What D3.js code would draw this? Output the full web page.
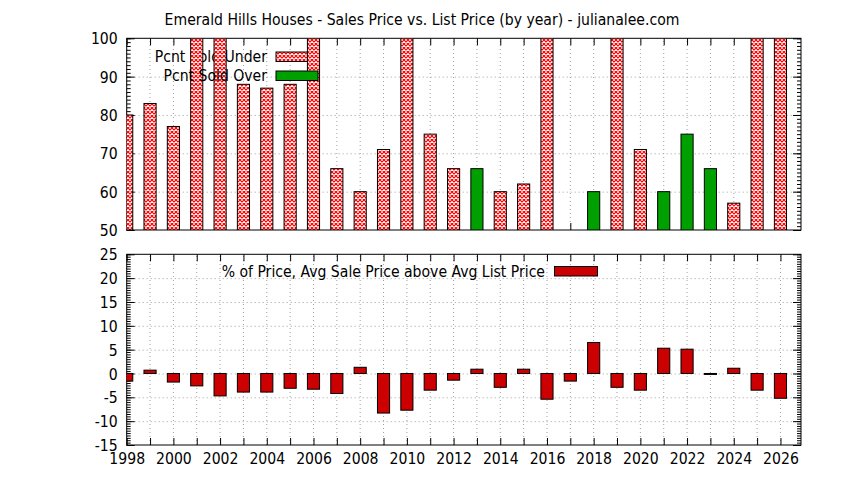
<!DOCTYPE html>
<html><head><meta charset="utf-8">
<script src="https://cdn.jsdelivr.net/npm/d3@7"></script>
<style>
body{margin:0;background:#fff;}
text{font-family:"DejaVu Sans Condensed","DejaVu Sans",sans-serif;font-size:15.6px;fill:#000;}
</style></head>
<body><svg id="c" width="844" height="480"></svg>
<script>
const titleText = "Emerald Hills Houses - Sales Price vs. List Price (by year) - julianalee.com";
const years = [1998,1999,2000,2001,2002,2003,2004,2005,2006,2007,2008,2009,2010,2011,2012,2013,2014,2015,2016,2017,2018,2019,2020,2021,2022,2023,2024,2025,2026];
const pctSoldUnder = [80,83,77,100,100,88,87,88,100,66,60,71,100,75,66,null,60,62,100,null,null,100,71,null,null,null,57,100,100];
const pctSoldOver  = [null,null,null,null,null,null,null,null,null,null,null,null,null,null,null,66,null,null,null,null,60,null,null,60,75,66,null,null,null];
const avgDiff = [-1.6,0.7,-1.8,-2.6,-4.7,-3.9,-3.9,-3.1,-3.3,-4.2,1.3,-8.3,-7.7,-3.5,-1.4,0.9,-2.9,0.9,-5.4,-1.6,6.5,-2.9,-3.5,5.3,5.1,-0.2,1.1,-3.5,-5.2];
const xTickLabels = [1998,2000,2002,2004,2006,2008,2010,2012,2014,2016,2018,2020,2022,2024,2026];
const topYTicks = [50,60,70,80,90,100];
const botYTicks = [-15,-10,-5,0,5,10,15,20,25];
const legendUnder = "Pcnt Sold Under";
const legendOver = "Pcnt Sold Over";
const legendDiff = "% of Price, Avg Sale Price above Avg List Price";

const svg = d3.select("#c");
const L = 126.7, R = 801;
const x = d3.scaleLinear().domain([1998, 2026.88]).range([L, R]);
const yTop = d3.scaleLinear().domain([50, 100]).range([230, 38.3]);
const yBot = d3.scaleLinear().domain([-15, 25]).range([445, 254.3]);
const barW = x(1998.52) - x(1998);
const fmt = d => String(d);

const defs = svg.append("defs");
const pat = defs.append("pattern").attr("id","hatch").attr("patternUnits","userSpaceOnUse").attr("width",4).attr("height",4);
pat.append("rect").attr("width",4).attr("height",4).attr("fill","#fff");
pat.append("path").attr("d","M0,0L4,4M4,0L0,4").attr("stroke","#ff0000").attr("stroke-width",1.15).attr("fill","none");
function clip(id, y){
  defs.append("clipPath").attr("id",id).append("rect")
    .attr("x",L).attr("y",d3.min(y.range())).attr("width",R-L).attr("height",Math.abs(y.range()[0]-y.range()[1]));
}
clip("clipTop", yTop); clip("clipBot", yBot);

svg.append("text").attr("x",422).attr("y",25).attr("text-anchor","middle").text(titleText);

function panel(y, yTicks, showLabels){
  const g = svg.append("g");
  const y0 = y.range()[0], y1 = y.range()[1];
  g.selectAll(".gx").data(years).enter().append("line")
    .attr("x1",d=>x(d)).attr("x2",d=>x(d)).attr("y1",y0).attr("y2",y1)
    .attr("stroke","#a0a0a0").attr("stroke-width",1).attr("stroke-dasharray","1,3");
  g.selectAll(".gy").data(yTicks.slice(1,-1)).enter().append("line")
    .attr("x1",L).attr("x2",R).attr("y1",d=>y(d)+0.5).attr("y2",d=>y(d)+0.5)
    .attr("stroke","#a0a0a0").attr("stroke-width",1).attr("stroke-dasharray","1,3");
  const step = yTicks[1]-yTicks[0];
  const minor = d3.range(yTicks[0], yTicks[yTicks.length-1]+1e-9, step/10);
  const axL = d3.axisLeft(y).tickValues(yTicks).tickSize(-8).tickPadding(9).tickFormat(fmt);
  const axR = d3.axisRight(y).tickValues(yTicks).tickSize(-8).tickFormat("");
  const axLm = d3.axisLeft(y).tickValues(minor).tickSize(-4).tickFormat("");
  const axRm = d3.axisRight(y).tickValues(minor).tickSize(-4).tickFormat("");
  const axB = d3.axisBottom(x).tickValues(years).tickSize(-7).tickFormat("");
  const axT = d3.axisTop(x).tickValues(years).tickSize(-7).tickFormat("");
  const add = (ax, tr)=>{ const a=g.append("g").attr("transform",tr).call(ax); a.select(".domain").remove(); a.selectAll("line").attr("stroke","#000"); return a; };
  const al = add(axL,`translate(${L},0)`);
  al.selectAll("text").attr("font-size",null).attr("font-family",null).attr("dy","0.36em");
  add(axR,`translate(${R},0)`); add(axLm,`translate(${L},0)`); add(axRm,`translate(${R},0)`);
  add(axB,`translate(0,${y0})`); add(axT,`translate(0,${y1})`);
  if(showLabels){
    const ab = g.append("g").attr("transform",`translate(0,${y0})`).call(d3.axisBottom(x).tickValues(xTickLabels).tickSize(0).tickPadding(7.5).tickFormat(fmt));
    ab.select(".domain").remove();
    ab.selectAll("text").attr("font-size",null).attr("font-family",null);
  }
  g.append("rect").attr("x",L).attr("y",y1).attr("width",R-L).attr("height",y0-y1).attr("fill","none").attr("stroke","#000").attr("stroke-width",1);
  return g;
}
panel(yTop, topYTicks, false);
panel(yBot, botYTicks, true);

function legendEntry(label, tx, ty, sx, sw, fill){
  svg.append("text").attr("x",tx).attr("y",ty).attr("dy","0.36em").attr("text-anchor","end").text(label);
  svg.append("rect").attr("x",sx).attr("y",ty-4.5).attr("width",sw).attr("height",9.5).attr("fill",fill).attr("stroke","#000").attr("stroke-width",1);
}
legendEntry(legendUnder, 267, 56.5, 276, 42, "url(#hatch)");
const under = years.map((yr,i)=>({yr, v:pctSoldUnder[i]})).filter(d=>d.v!=null);
svg.append("g").attr("clip-path","url(#clipTop)").selectAll("rect").data(under).enter().append("rect")
  .attr("x",d=>x(d.yr)-barW/2).attr("width",barW)
  .attr("y",d=>yTop(d.v)).attr("height",d=>yTop(50)-yTop(d.v))
  .attr("fill","url(#hatch)").attr("stroke","#000").attr("stroke-width",1);
legendEntry(legendOver, 267, 75.5, 276, 42, "#00a000");
const over = years.map((yr,i)=>({yr, v:pctSoldOver[i]})).filter(d=>d.v!=null);
svg.append("g").attr("clip-path","url(#clipTop)").selectAll("rect").data(over).enter().append("rect")
  .attr("x",d=>x(d.yr)-barW/2).attr("width",barW)
  .attr("y",d=>yTop(d.v)).attr("height",d=>yTop(50)-yTop(d.v))
  .attr("fill","#00a000").attr("stroke","#000").attr("stroke-width",1);

legendEntry(legendDiff, 545, 271, 554.5, 43, "#cc0000");
const diff = years.map((yr,i)=>({yr, v:avgDiff[i]}));
svg.append("g").attr("clip-path","url(#clipBot)").selectAll("rect").data(diff).enter().append("rect")
  .attr("x",d=>x(d.yr)-barW/2).attr("width",barW)
  .attr("y",d=>yBot(Math.max(0,d.v))).attr("height",d=>Math.abs(yBot(0)-yBot(d.v)))
  .attr("fill","#cc0000").attr("stroke","#000").attr("stroke-width",1);
</script></body></html>
